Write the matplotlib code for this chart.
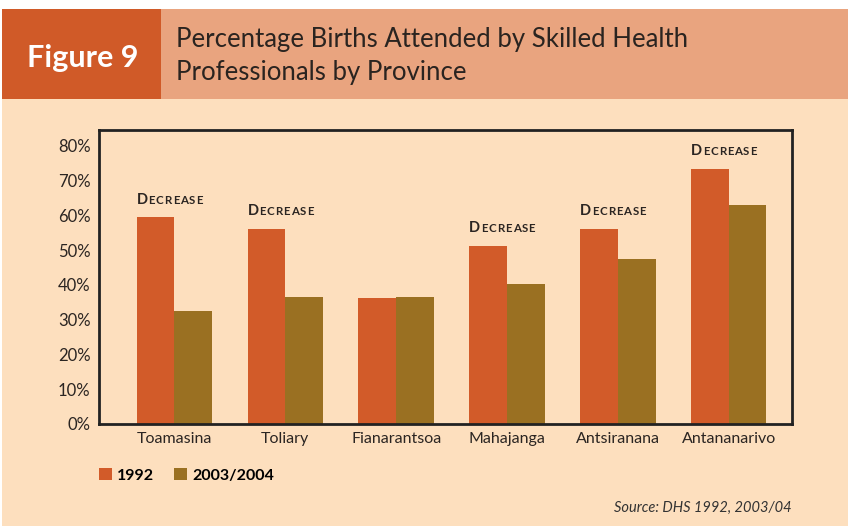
import matplotlib.pyplot as plt
import numpy as np
from matplotlib.patches import Rectangle
from matplotlib.offsetbox import TextArea, HPacker, AnnotationBbox

provinces = ['Toamasina', 'Toliary', 'Fianarantsoa', 'Mahajanga', 'Antsiranana', 'Antananarivo']
y1992 = [59.5, 56.1, 36.3, 51.2, 56.1, 73.4]
y2003 = [32.5, 36.5, 36.5, 40.3, 47.5, 63.0]
yticks = [0, 10, 20, 30, 40, 50, 60, 70, 80]
decrease = [True, True, False, True, True, True]

c1992 = '#D25B29'
c2003 = '#9A7022'
bg = '#FDDFBE'
dark = '#2B2522'
font = 'Lato'

W, H = 848, 526
fig = plt.figure(figsize=(W / 100, H / 100), dpi=100, facecolor='white')

# background and header band
fig.patches.append(Rectangle((2 / W, 0), 1, 1 - 99 / H, transform=fig.transFigure,
                             facecolor=bg, edgecolor='none', zorder=-5))
fig.patches.append(Rectangle((2 / W, 1 - 99 / H), 159 / W, 90 / H, transform=fig.transFigure,
                             facecolor='#D05A28', edgecolor='none', zorder=-5))
fig.patches.append(Rectangle((161 / W, 1 - 99 / H), 1, 90 / H, transform=fig.transFigure,
                             facecolor='#E9A47F', edgecolor='none', zorder=-5))
fig.text(83 / W, 1 - 58 / H, 'Figure 9', color='white', fontsize=22, fontweight='bold',
         family=font, ha='center', va='center')
fig.text(176 / W, 1 - 56 / H, 'Percentage Births Attended by Skilled Health\nProfessionals by Province',
         color='#2a2420', fontsize=18.5, family=font, ha='left', va='center', linespacing=1.38)

ax = fig.add_axes([99 / W, 1 - 424 / H, 693 / W, 294 / H])
ax.set_facecolor('none')
x = np.arange(len(provinces))
w = 0.34
ax.bar(x - w / 2, y1992, w, color=c1992, label='1992')
ax.bar(x + w / 2, y2003, w, color=c2003, label='2003/2004')
ax.set_xlim(-0.68, 5.57)
ax.set_ylim(0, 84.5)
ax.set_yticks(yticks)
ax.set_yticklabels([f'{t}%' for t in yticks], fontsize=12, family=font, color=dark)
ax.set_xticks(x)
ax.set_xticklabels(provinces, fontsize=11.5, family=font, color=dark)
ax.tick_params(length=0, pad=6)
for s in ax.spines.values():
    s.set_linewidth(2)
    s.set_color('#222222')

# "Decrease" in small caps with a bit of tracking
for i, d in enumerate(decrease):
    if not d:
        continue
    parts = [TextArea('D', textprops=dict(fontsize=10.5, fontweight='bold', family=font, color=dark))]
    for ch in 'ECREASE':
        parts.append(TextArea(ch, textprops=dict(fontsize=8.3, fontweight='bold', family=font, color=dark)))
    box = HPacker(children=parts, align='baseline', pad=0, sep=0.6)
    ab = AnnotationBbox(box, (x[i] - w, y1992[i]), xybox=(0, 7.5), xycoords='data',
                        boxcoords='offset points', box_alignment=(0, 0), frameon=False, pad=0)
    ax.add_artist(ab)

fig.legend(loc='upper left', bbox_to_anchor=(99 / W, 1 - 468 / H), ncol=2, frameon=False,
           prop=dict(family=font, size=11.5, weight='bold'), handlelength=0.8, handleheight=0.8,
           handletextpad=0.3, columnspacing=1.3, borderaxespad=0, borderpad=0)

fig.text(792 / W, 1 - 508 / H, 'Source: DHS 1992, 2003/04', fontsize=10.5, style='italic',
         family=font, color='#333333', ha='right', va='center')

fig.savefig('out.png', dpi=100, facecolor='white')
